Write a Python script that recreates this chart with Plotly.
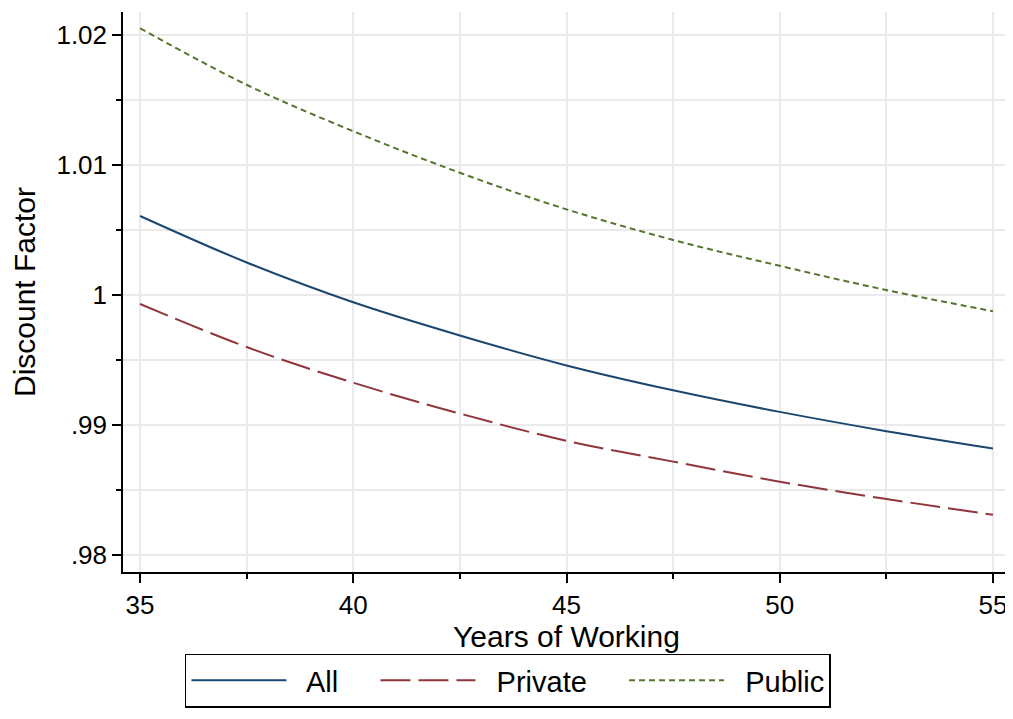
import plotly.graph_objects as go

years = [35, 37.5, 40, 42.5, 45, 47.5, 50, 52.5, 55]
all_vals = [1.00607, 1.00250, 0.99944, 0.99689, 0.99459, 0.99268, 0.99102, 0.98954, 0.98821]
private_vals = [0.99931, 0.99600, 0.99326, 0.99089, 0.98880, 0.98720, 0.98566, 0.98433, 0.98312]
public_vals = [1.02049, 1.01615, 1.01258, 1.00939, 1.00658, 1.00423, 1.00224, 1.00038, 0.99875]

x_ticks = [35, 40, 45, 50, 55]
x_minor = [37.5, 42.5, 47.5, 52.5]
y_ticks = [0.98, 0.99, 1.0, 1.01, 1.02]
y_ticktext = [".98", ".99", "1", "1.01", "1.02"]
y_minor = [0.985, 0.995, 1.005, 1.015]

FONT = "Liberation Sans, Arial, Helvetica, sans-serif"
GRID = "#eaeaea"

fig = go.Figure()
fig.add_trace(go.Scatter(x=years, y=all_vals, name="  All    ", mode="lines",
                         line=dict(color="#1a476f", width=2, shape="spline")))
fig.add_trace(go.Scatter(x=years, y=private_vals, name="  Private    ", mode="lines",
                         line=dict(color="#90353b", width=2, dash="30px,8px", shape="spline")))
fig.add_trace(go.Scatter(x=years, y=public_vals, name="  Public", mode="lines",
                         line=dict(color="#55752f", width=2, dash="6px,4px", shape="spline")))

# the page body adds an 8px margin, so the figure is sized to fit the window without scrolling
fig.update_layout(
    width=1005, height=703,
    margin=dict(l=115, r=3, t=4, b=137),
    paper_bgcolor="white", plot_bgcolor="white",
    font=dict(family=FONT, color="black", size=26),
    showlegend=True,
    legend=dict(orientation="h", x=0.434, xanchor="center", y=-0.242, yanchor="bottom",
                bordercolor="black", borderwidth=1.5, font=dict(size=29, family=FONT),
                itemwidth=95, bgcolor="white"),
    xaxis=dict(range=[34.6, 55.4], tickmode="array", tickvals=x_ticks,
               ticks="outside", ticklen=9, tickwidth=1.5, tickcolor="black",
               showline=True, linecolor="black", linewidth=1.5, automargin=False,
               ticklabeloverflow="allow",
               showgrid=True, gridcolor=GRID, gridwidth=1.5, zeroline=False,
               tickfont=dict(size=26, family=FONT),
               title=dict(text="Years of Working", font=dict(size=30, family=FONT), standoff=3),
               minor=dict(tickmode="array", tickvals=x_minor, ticks="outside", ticklen=5,
                          tickcolor="black", tickwidth=1.5, showgrid=True, gridcolor=GRID, gridwidth=1.5)),
    yaxis=dict(range=[0.97872, 1.02174], tickmode="array", tickvals=y_ticks, ticktext=y_ticktext,
               ticks="outside", ticklen=9, tickwidth=1.5, tickcolor="black",
               showline=True, linecolor="black", linewidth=1.5, automargin=False,
               showgrid=True, gridcolor=GRID, gridwidth=1.5, zeroline=False,
               tickfont=dict(size=26, family=FONT),
               title=dict(text="Discount Factor", font=dict(size=30, family=FONT), standoff=17),
               minor=dict(tickmode="array", tickvals=y_minor, ticks="outside", ticklen=5,
                          tickcolor="black", tickwidth=1.5, showgrid=True, gridcolor=GRID, gridwidth=1.5)),
)

fig.write_html("out.html")
